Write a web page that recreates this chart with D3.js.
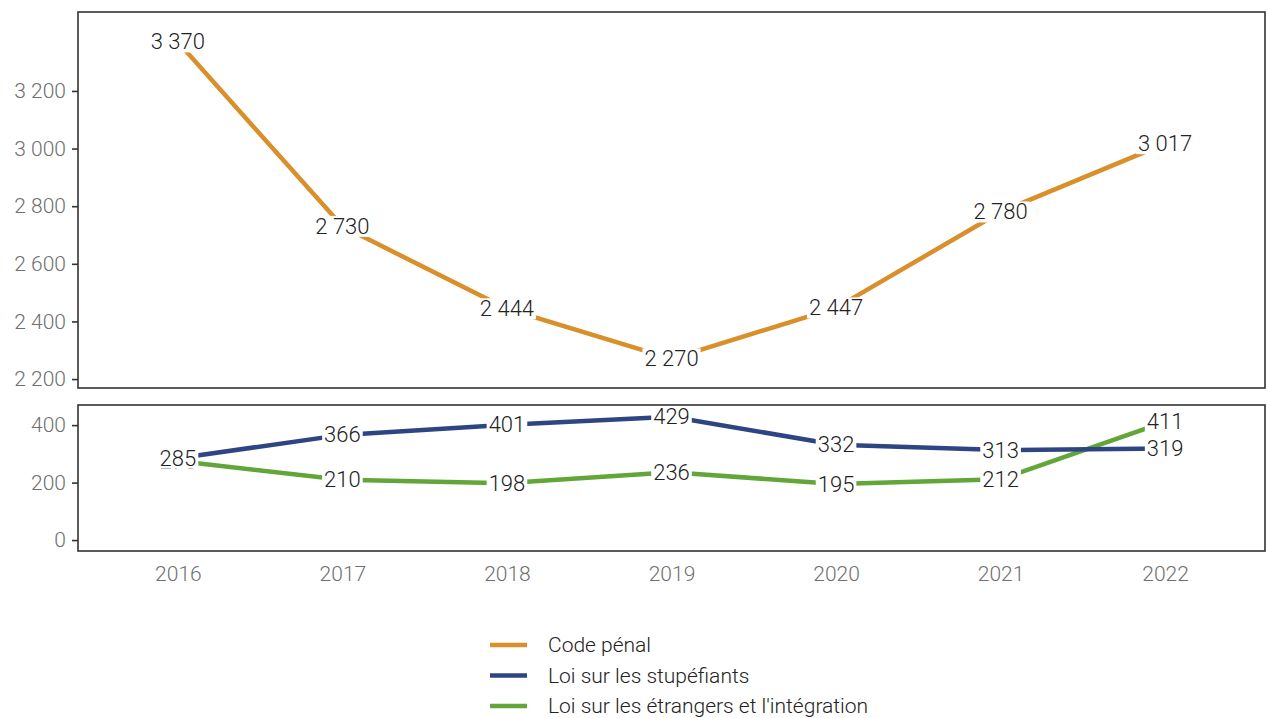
<!DOCTYPE html>
<html>
<head>
<meta charset="utf-8">
<script src="https://cdn.jsdelivr.net/npm/d3@7"></script>
<style>
  html, body { margin: 0; padding: 0; background: #fff; }
  svg text { font-family: Roboto, "Noto Sans", sans-serif; }
</style>
</head>
<body>
<svg id="chart" width="1267" height="718"></svg>
<script>
// Years on the x axis
const years = [2016, 2017, 2018, 2019, 2020, 2021, 2022];

// Convictions by law
const codePenal = [3370, 2730, 2444, 2270, 2447, 2780, 3017];
const stupefiants = [285, 366, 401, 429, 332, 313, 319];
const etrangers = [275, 210, 198, 236, 195, 212, 411];

const seriesNames = ["Code pénal", "Loi sur les stupéfiants", "Loi sur les étrangers et l'intégration"];
const seriesColors = ["#D98F2A", "#2E4584", "#62A63A"];

// Axis ticks of the two panels
const topTicks = [2200, 2400, 2600, 2800, 3000, 3200];
const bottomTicks = [0, 200, 400];

const fmt = d3.formatLocale({ decimal: ",", thousands: " ", grouping: [3], currency: ["", ""] }).format(",d");

const svg = d3.select("#chart");
const left = 78, right = 1265;

const x = d3.scalePoint().domain(years).range([left, right]).padding(0.607);

const panels = [
  { top: 12, bottom: 388, domain: [2169, 3474], ticks: topTicks,
    series: [{ values: codePenal, color: seriesColors[0] }] },
  { top: 405, bottom: 551, domain: [-38, 470], ticks: bottomTicks,
    series: [
      { values: etrangers, color: seriesColors[2] },
      { values: stupefiants, color: seriesColors[1] }
    ] }
];

panels.forEach(p => {
  const y = d3.scaleLinear().domain(p.domain).range([p.bottom, p.top]);
  const g = svg.append("g");

  // y axis
  const yAxis = d3.axisLeft(y).tickValues(p.ticks).tickFormat(fmt).tickSize(6).tickPadding(6);
  const ag = g.append("g").attr("transform", `translate(${left},0)`).call(yAxis);
  ag.select(".domain").remove();
  ag.selectAll(".tick line").attr("stroke", "#333").attr("stroke-width", 1.6);
  ag.selectAll(".tick text").attr("fill", "#6f6f6f").attr("font-size", 21).attr("font-weight", 300);

  // lines
  const line = d3.line().x((d, i) => x(years[i])).y(d => y(d));
  p.series.forEach(s => {
    g.append("path").datum(s.values)
      .attr("d", line).attr("fill", "none")
      .attr("stroke", s.color).attr("stroke-width", 4.5)
      .attr("stroke-linejoin", "round");
  });

  // value labels with white backgrounds
  p.series.forEach(s => {
    const lg = g.append("g");
    s.values.forEach((v, i) => {
      const lab = lg.append("g");
      const t = lab.append("text")
        .attr("x", x(years[i])).attr("y", y(v))
        .attr("text-anchor", "middle").attr("dominant-baseline", "central")
        .attr("font-size", 22).attr("font-weight", 300).attr("fill", "#222")
        .text(fmt(v));
      const bb = t.node().getBBox();
      lab.insert("rect", "text")
        .attr("x", bb.x - 2).attr("y", bb.y + 2)
        .attr("width", bb.width + 4).attr("height", bb.height - 4)
        .attr("fill", "#fff");
    });
  });

  // panel border
  g.append("rect")
    .attr("x", left).attr("y", p.top)
    .attr("width", right - left).attr("height", p.bottom - p.top)
    .attr("fill", "none").attr("stroke", "#333").attr("stroke-width", 1.6);
});

// x axis below bottom panel
const xAxis = d3.axisBottom(x).tickFormat(d3.format("d")).tickSize(0).tickPadding(15);
const xg = svg.append("g").attr("transform", `translate(0,${551})`).call(xAxis);
xg.select(".domain").remove();
xg.selectAll(".tick text").attr("fill", "#6f6f6f").attr("font-size", 21).attr("font-weight", 300);

// legend
const legend = svg.append("g").attr("transform", "translate(490,645)");
seriesNames.forEach((name, i) => {
  const row = legend.append("g").attr("transform", `translate(0,${i * 30.5})`);
  row.append("line").attr("x1", 0).attr("x2", 37).attr("y1", 0).attr("y2", 0)
    .attr("stroke", seriesColors[i]).attr("stroke-width", 4.5);
  row.append("text").attr("x", 58).attr("y", 0)
    .attr("dominant-baseline", "central")
    .attr("font-size", 21).attr("font-weight", 300).attr("fill", "#222").text(name);
});
</script>
</body>
</html>
